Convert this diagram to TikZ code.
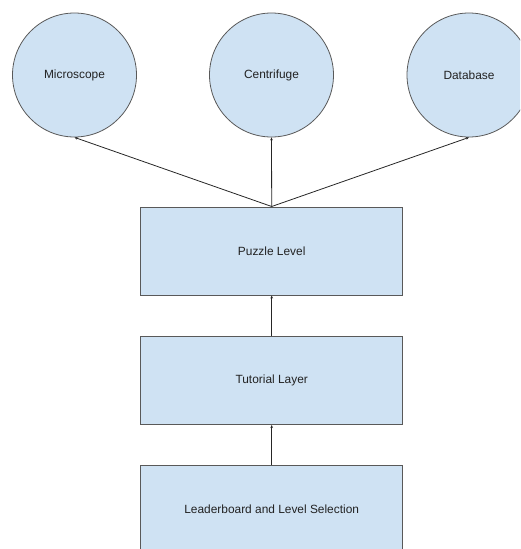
\documentclass[tikz,border=0pt]{standalone}
\usepackage{fontspec}
\setmainfont{Liberation Sans}
\usetikzlibrary{arrows.meta}
\definecolor{boxblue}{HTML}{CFE2F3}
\definecolor{edgegray}{HTML}{595959}
\definecolor{textgray}{HTML}{222222}
\tikzset{
    tool/.style={circle, draw=edgegray, fill=boxblue, line width=0.8pt, minimum size=124pt, inner sep=0pt, text=textgray, font=\fontsize{11.9}{14}\selectfont},
    layer/.style={rectangle, draw=edgegray, fill=boxblue, line width=1pt, minimum width=262pt, minimum height=88pt, inner sep=0pt, text=textgray, font=\fontsize{11.9}{14}\selectfont},
    link/.style={draw=black!85, line width=0.8pt, -{Stealth[length=3pt, width=2.6pt]}}
}

\begin{document}
\begin{tikzpicture}[x=1pt, y=-1pt]
        \useasboundingbox (0,0) rectangle (520,549);
        \clip (0,0) rectangle (520,549);
        \node [tool] (microscope) at (74.5,75) {Microscope};
        \node [tool] (centrifuge) at (271.5,75) {Centrifuge};
        \node [tool] (database) at (469,75) {Database};
        \node [layer] (puzzle) at (271.7,251) {Puzzle Level};
        \node [layer] (tutorial) at (271.7,380.5) {Tutorial Layer};
        \node [layer] (leaderboard) at (271.7,509.7) {Leaderboard and Level Selection};
        \draw [link] (puzzle.north) -- (microscope.south);
        \draw [link] (puzzle.north) -- (centrifuge.south);
        \draw [link] (puzzle.north) -- (database.south);
        \draw [link] (tutorial.north) -- (puzzle.south);
        \draw [link] (leaderboard.north) -- (tutorial.south);
    \end{tikzpicture}
\end{document}
